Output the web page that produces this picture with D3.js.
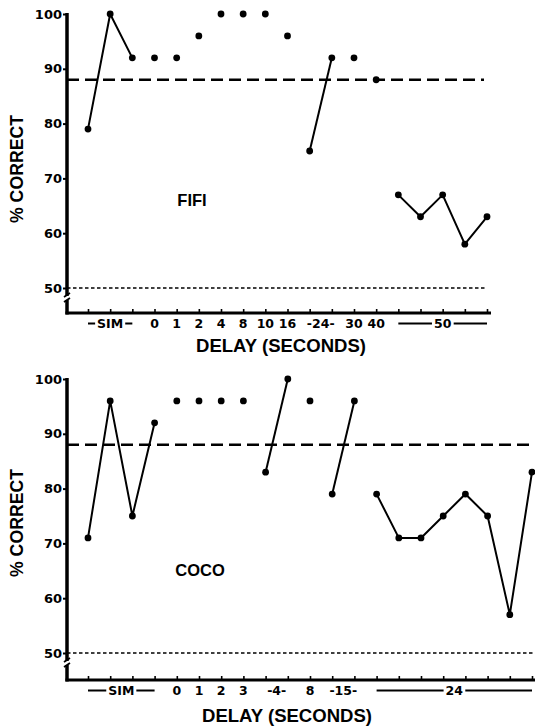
<!DOCTYPE html>
<html><head><meta charset="utf-8">
<script src="https://cdn.jsdelivr.net/npm/d3@7"></script>
<style>body{margin:0;background:#fff}svg{display:block}</style>
</head><body>
<svg id="c" width="535" height="727"></svg>
<script>
// ---- data ----
const yTicks = [50, 60, 70, 80, 90, 100];
const criterion = 88;
const chance = 50;

const fifiValues = [79, 100, 92, 92, 92, 96, 100, 100, 100, 96, 75, 92, 92, 88, 67, 63, 67, 58, 63];
const fifiGroups = [0, 0, 0, 1, 2, 3, 4, 5, 6, 7, 8, 8, 9, 10, 11, 11, 11, 11, 11];
const fifiLabels = ["SIM", "0", "1", "2", "4", "8", "10", "16", "-24-", "30", "40", "50"];
const fifiLabelFrom = [0, 3, 4, 5, 6, 7, 8, 9, 10, 12, 13, 14];
const fifiLabelTo   = [2, 3, 4, 5, 6, 7, 8, 9, 11, 12, 13, 18];

const cocoValues = [71, 96, 75, 92, 96, 96, 96, 96, 83, 100, 96, 79, 96, 79, 71, 71, 75, 79, 75, 57, 83];
const cocoGroups = [0, 0, 0, 0, 1, 2, 3, 4, 5, 5, 6, 7, 7, 8, 8, 8, 8, 8, 8, 8, 8];
const cocoLabels = ["SIM", "0", "1", "2", "3", "-4-", "8", "-15-", "24"];
const cocoLabelFrom = [0, 4, 5, 6, 7, 8, 10, 11, 13];
const cocoLabelTo   = [3, 4, 5, 6, 7, 9, 10, 12, 20];

const svg = d3.select("#c");
const FONT = "'DejaVu Sans', sans-serif";
const FONT2 = "'Liberation Sans', Arial, sans-serif";

function panel(cfg) {
  const g = svg.append("g");
  const n = cfg.values.length;
  const x = d3.scalePoint().domain(d3.range(n)).range(cfg.xr);
  const y = d3.scaleLinear().domain([50, 100]).range(cfg.yr);
  const ax = cfg.axisX, base = cfg.base;

  // reference lines
  g.append("line").attr("x1", ax).attr("x2", cfg.dashEnd)
    .attr("y1", y(criterion)).attr("y2", y(criterion))
    .attr("stroke", "#000").attr("stroke-width", 2.4).attr("stroke-dasharray", "12,6");
  g.append("line").attr("x1", ax).attr("x2", cfg.dotEnd)
    .attr("y1", y(chance)).attr("y2", y(chance))
    .attr("stroke", "#000").attr("stroke-width", 1.6).attr("stroke-dasharray", "3.5,2.5");

  // y axis
  const yAxis = g.append("g").attr("transform", `translate(${ax},0)`)
    .call(d3.axisLeft(y).tickValues(yTicks).tickSize(4).tickPadding(1));
  yAxis.select(".domain").remove();
  yAxis.selectAll(".tick line").attr("stroke-width", 2);
  yAxis.selectAll(".tick text").attr("font-family", FONT).attr("font-weight", "bold")
    .attr("font-size", 13).attr("fill", "#000");
  g.append("line").attr("x1", ax).attr("x2", ax).attr("y1", y(100) - 1).attr("y2", base + 1.5)
    .attr("stroke", "#000").attr("stroke-width", 3.5);
  // axis break marks
  const by = y(chance) + 10;
  g.append("rect").attr("x", ax - 3).attr("y", by - 2).attr("width", 6).attr("height", 4).attr("fill", "#fff");
  g.append("path").attr("d", `M${ax-3},${by-1} L${ax+3},${by-5} M${ax-3},${by+4} L${ax+3},${by}`)
    .attr("stroke", "#000").attr("stroke-width", 1.8).attr("fill", "none");

  // x axis
  const xAxis = g.append("g").attr("transform", `translate(0,${base})`)
    .call(d3.axisTop(x).tickSize(4).tickFormat(""));
  xAxis.select(".domain").remove();
  xAxis.selectAll(".tick line").attr("stroke-width", 1.6);
  g.append("line").attr("x1", ax - 1.5).attr("x2", cfg.axisEnd).attr("y1", base).attr("y2", base)
    .attr("stroke", "#000").attr("stroke-width", 3);

  // x tick labels
  const ly = base + 15;
  cfg.labels.forEach((t, i) => {
    const a = cfg.from[i], b = cfg.to[i];
    const cx = (x(a) + x(b)) / 2;
    const ruled = b - a >= 2;
    let bg = null;
    if (ruled) {
      g.append("line").attr("x1", x(a)).attr("x2", x(b)).attr("y1", ly - 4.5).attr("y2", ly - 4.5)
        .attr("stroke", "#000").attr("stroke-width", 1.8);
      bg = g.append("rect").attr("fill", "#fff");
    }
    const tx = g.append("text").attr("x", cx).attr("y", ly).attr("text-anchor", "middle")
      .attr("font-family", FONT).attr("font-weight", "bold").attr("font-size", 12.5)
      .attr("fill", "#000").text(t);
    if (bg) {
      const bb = tx.node().getBBox();
      bg.attr("x", bb.x - 2).attr("y", bb.y).attr("width", bb.width + 4).attr("height", bb.height);
    }
  });

  // data lines
  const groups = d3.groups(d3.range(n), i => cfg.groups[i]);
  const line = d3.line().x(i => x(i)).y(i => y(cfg.values[i]));
  groups.forEach(([k, idx]) => {
    if (idx.length > 1) {
      g.append("path").attr("d", line(idx)).attr("fill", "none")
        .attr("stroke", "#000").attr("stroke-width", 2).attr("stroke-linejoin", "round");
    }
  });
  g.selectAll("circle.pt").data(d3.range(n)).join("circle").attr("class", "pt")
    .attr("cx", i => x(i)).attr("cy", i => y(cfg.values[i])).attr("r", 3.4).attr("fill", "#000");

  // name
  g.append("text").attr("x", cfg.nameX).attr("y", cfg.nameY).attr("text-anchor", "middle")
    .attr("font-family", FONT2).attr("font-weight", "bold").attr("font-size", 16.5)
    .attr("fill", "#000").text(cfg.name);

  // y title
  g.append("text").attr("transform", `translate(${cfg.yTitleX},${cfg.yTitleY}) rotate(-90)`)
    .attr("text-anchor", "middle").attr("font-family", FONT2).attr("font-weight", "bold")
    .attr("font-size", 19).attr("textLength", 108).attr("lengthAdjust", "spacingAndGlyphs")
    .attr("fill", "#000").text("% CORRECT");

  // x title
  g.append("text").attr("x", cfg.xTitleX).attr("y", cfg.xTitleY).attr("text-anchor", "middle")
    .attr("font-family", FONT2).attr("font-weight", "bold").attr("font-size", 19)
    .attr("textLength", 170).attr("lengthAdjust", "spacingAndGlyphs")
    .attr("fill", "#000").text("DELAY (SECONDS)");
}

panel({
  values: fifiValues, groups: fifiGroups, labels: fifiLabels, from: fifiLabelFrom, to: fifiLabelTo,
  xr: [88, 487], yr: [288, 14], base: 313, axisX: 67, axisEnd: 491, dashEnd: 484, dotEnd: 485,
  name: "FIFI", nameX: 192, nameY: 206, yTitleX: 23, yTitleY: 169, xTitleX: 281, xTitleY: 352
});
panel({
  values: cocoValues, groups: cocoGroups, labels: cocoLabels, from: cocoLabelFrom, to: cocoLabelTo,
  xr: [88, 532], yr: [653, 379], base: 680, axisX: 67, axisEnd: 535, dashEnd: 535, dotEnd: 535,
  name: "COCO", nameX: 200, nameY: 576, yTitleX: 23, yTitleY: 523, xTitleX: 287, xTitleY: 722
});
</script>
</body></html>
